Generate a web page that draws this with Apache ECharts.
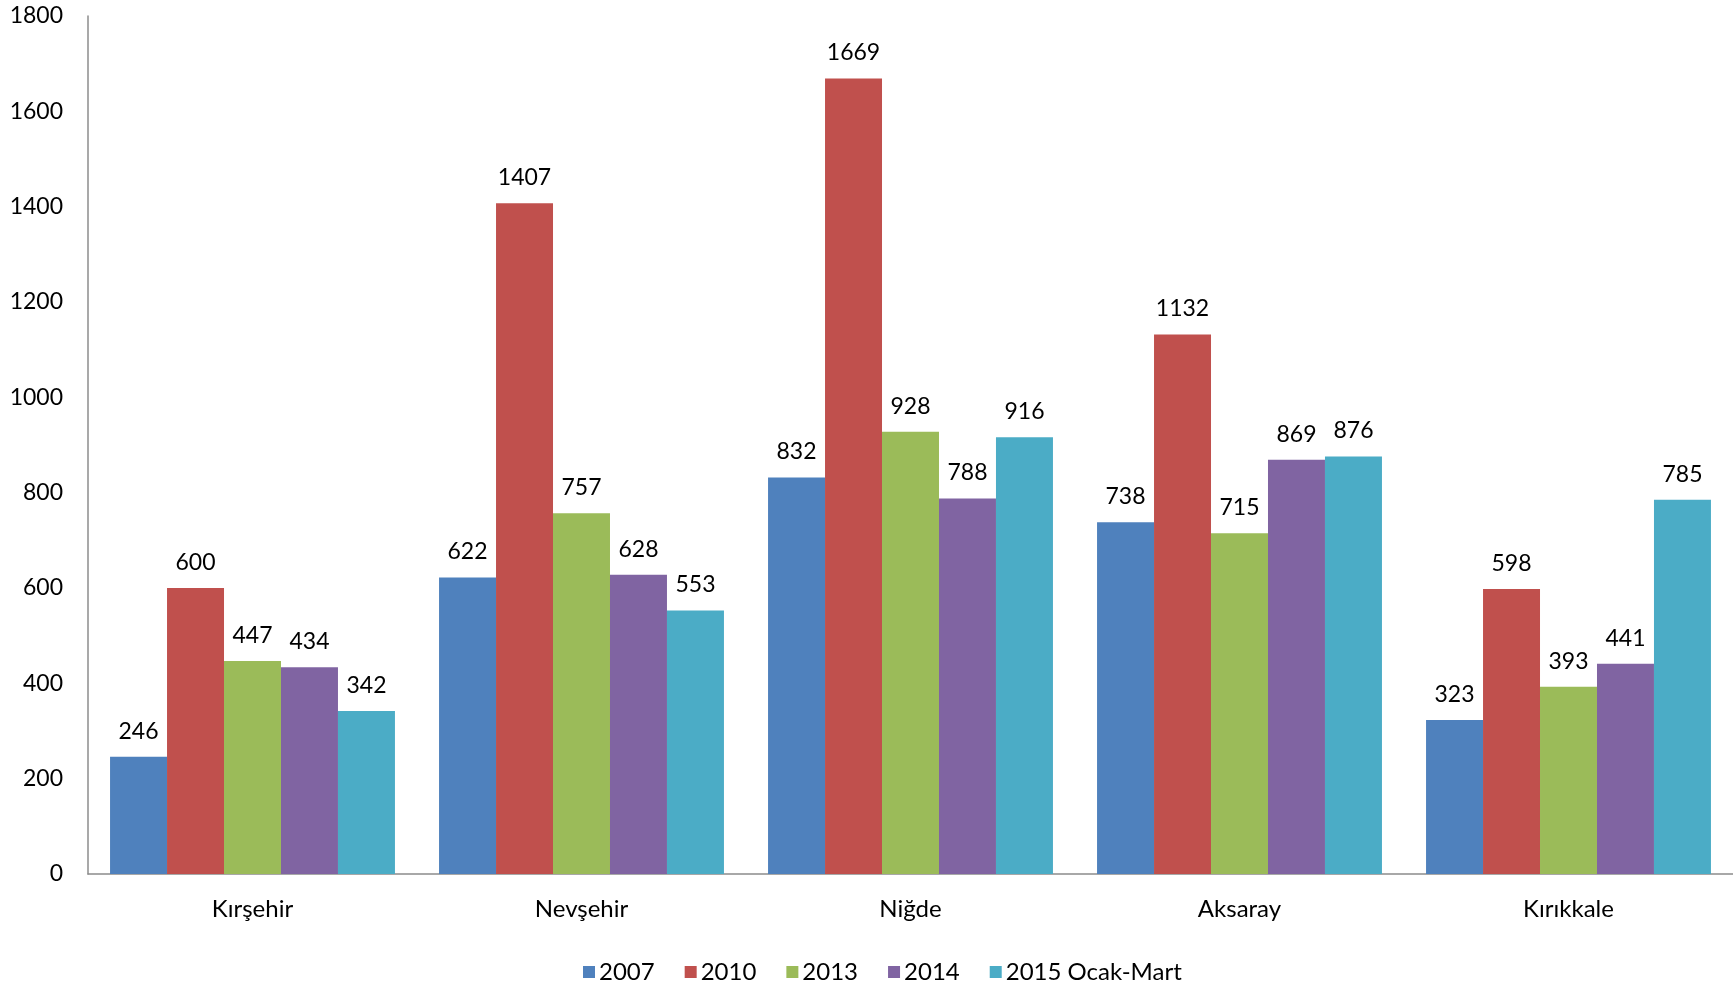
<!DOCTYPE html>
<html><head><meta charset="utf-8">
<script src="https://cdn.jsdelivr.net/npm/echarts@6/dist/echarts.min.js"></script>
<style>html,body{margin:0;padding:0;background:#fff}#c{width:1733px;height:989px}</style>
</head><body><div id="c"></div>
<script>
const categories = ['Kırşehir', 'Nevşehir', 'Niğde', 'Aksaray', 'Kırıkkale'];
const seriesNames = ['2007', '2010', '2013', '2014', '2015 Ocak-Mart'];
const v2007 = [246, 622, 832, 738, 323];
const v2010 = [600, 1407, 1669, 1132, 598];
const v2013 = [447, 757, 928, 715, 393];
const v2014 = [434, 628, 788, 869, 441];
const v2015 = [342, 553, 916, 876, 785];
const yTicks = [0, 200, 400, 600, 800, 1000, 1200, 1400, 1600, 1800];

const colors = ['#4F81BD', '#C0504D', '#9BBB59', '#8064A2', '#4BACC6'];
const values = [v2007, v2010, v2013, v2014, v2015];
const font = 'Lato, "Open Sans", sans-serif';

const chart = echarts.init(document.getElementById('c'));
chart.setOption({
  animation: false,
  color: colors,
  textStyle: { fontFamily: font },
  grid: { left: 88, right: 0, top: 16, bottom: 115, containLabel: false },
  legend: {
    bottom: 0,
    left: 578,
    itemWidth: 12, itemHeight: 12, itemGap: 30,
    icon: 'rect',
    textStyle: { fontSize: 24, color: '#000', fontFamily: font, padding: [0, 0, 0, -1] },
    data: seriesNames
  },
  xAxis: {
    type: 'category',
    data: categories,
    axisLine: { lineStyle: { color: '#8c8c8c', width: 1.5 } },
    axisTick: { show: false },
    axisLabel: { fontSize: 24, color: '#000', margin: 23, fontFamily: font }
  },
  yAxis: {
    type: 'value',
    min: yTicks[0], max: yTicks[yTicks.length - 1], interval: 200,
    axisLine: { show: true, lineStyle: { color: '#8c8c8c', width: 1.5 } },
    axisTick: { show: false },
    splitLine: { show: false },
    axisLabel: { fontSize: 23, color: '#000', margin: 25, fontFamily: font, formatter: v => String(v) }
  },
  series: seriesNames.map((n, i) => ({
    name: n,
    type: 'bar',
    data: values[i],
    barGap: '0%',
    barCategoryGap: '13.4%',
    itemStyle: { color: colors[i] },
    label: { show: true, position: 'top', distance: 14, fontSize: 23, color: '#000', fontFamily: font }
  }))
});
</script></body></html>
